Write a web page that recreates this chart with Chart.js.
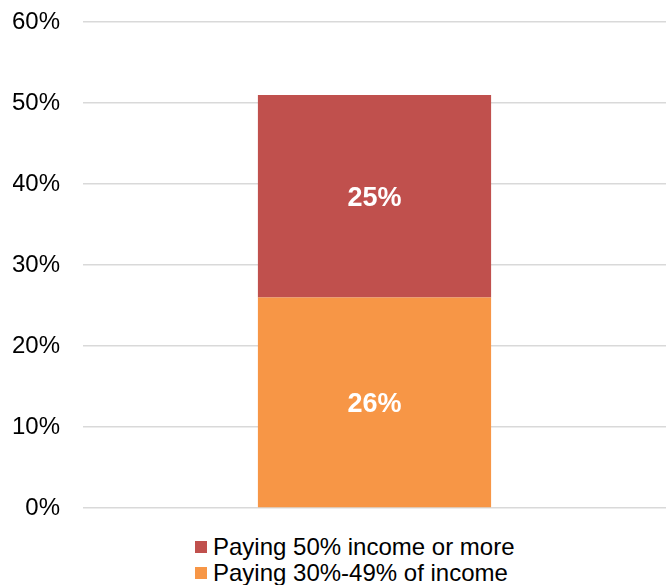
<!DOCTYPE html>
<html lang="en">

<head>
    <meta charset="UTF-8">
    <title>Housing cost burden</title>
    <style>
        body {
            margin: 0;
            background: #fff;
            font-family: "Liberation Sans", Arial, sans-serif;
        }

        .wrap {
            position: relative;
            width: 671px;
            height: 585px;
        }

        .blocker {
            position: absolute;
            left: 0;
            top: 0;
            width: 671px;
            height: 520px;
        }

        .legend {
            position: absolute;
            left: 195px;
            top: 534px;
            font-size: 24px;
            color: #000;
        }

        .legend div {
            display: flex;
            align-items: center;
            height: 26px;
        }

        .legend span.box {
            display: inline-block;
            width: 12px;
            height: 12px;
            margin-right: 6px;
        }
    </style>
    <script src="https://cdn.jsdelivr.net/npm/chart.js"></script>
</head>

<body>
    <div class="wrap">
        <div class="blocker">
            <canvas id="myChart"></canvas>
        </div>
        <div class="legend" id="legend"></div>
    </div>

    <script>
        const categories = [''];
        const seriesNames = ['Paying 30%-49% of income', 'Paying 50% income or more'];
        const moderate = [26];
        const severe = [25];
        const colors = ['#F79646', '#C0504D'];
        const yTicks = [0, 10, 20, 30, 40, 50, 60];

        const ctx = document.getElementById('myChart');

        // white bold value labels in the middle of each segment
        const segmentLabels = {
            id: 'segmentLabels',
            afterDatasetsDraw(chart) {
                const c = chart.ctx;
                c.save();
                c.fillStyle = '#fff';
                c.font = 'bold 27px "Liberation Sans", Arial, sans-serif';
                c.textAlign = 'center';
                c.textBaseline = 'middle';
                chart.data.datasets.forEach((ds, i) => {
                    chart.getDatasetMeta(i).data.forEach((bar, j) => {
                        const mid = (bar.y + bar.base) / 2;
                        c.fillText(ds.data[j] + '%', bar.x, mid + 2);
                    });
                });
                c.restore();
            }
        };

        new Chart(ctx, {
            type: 'bar',
            data: {
                labels: categories,
                datasets: [{
                    label: seriesNames[0],
                    data: moderate,
                    backgroundColor: colors[0]
                }, {
                    label: seriesNames[1],
                    data: severe,
                    backgroundColor: colors[1]
                }]
            },
            options: {
                responsive: true,
                maintainAspectRatio: false,
                animation: false,
                layout: {
                    padding: { left: 13, right: 5, top: 22, bottom: 12 }
                },
                categoryPercentage: 1,
                barPercentage: 0.4,
                plugins: {
                    legend: { display: false },
                    tooltip: { enabled: false }
                },
                scales: {
                    x: {
                        stacked: true,
                        display: false
                    },
                    y: {
                        stacked: true,
                        min: yTicks[0],
                        max: yTicks[yTicks.length - 1],
                        border: { display: false },
                        grid: {
                            color: '#d9d9d9',
                            lineWidth: 1.5,
                            drawTicks: false
                        },
                        afterBuildTicks(axis) {
                            axis.ticks = yTicks.map(v => ({ value: v }));
                        },
                        afterFit(axis) {
                            axis.width = 70;
                            axis.paddingTop = 0;
                            axis.paddingBottom = 0;
                        },
                        ticks: {
                            padding: 23,
                            color: '#000',
                            font: { family: '"Liberation Sans", Arial, sans-serif', size: 24 },
                            callback: v => v + '%'
                        }
                    }
                }
            },
            plugins: [segmentLabels]
        });

        // legend: top series first, one per line
        const legend = document.getElementById('legend');
        [1, 0].forEach(i => {
            const row = document.createElement('div');
            row.innerHTML = '<span class="box" style="background:' + colors[i] + '"></span>' + seriesNames[i];
            legend.appendChild(row);
        });
    </script>
</body>

</html>
